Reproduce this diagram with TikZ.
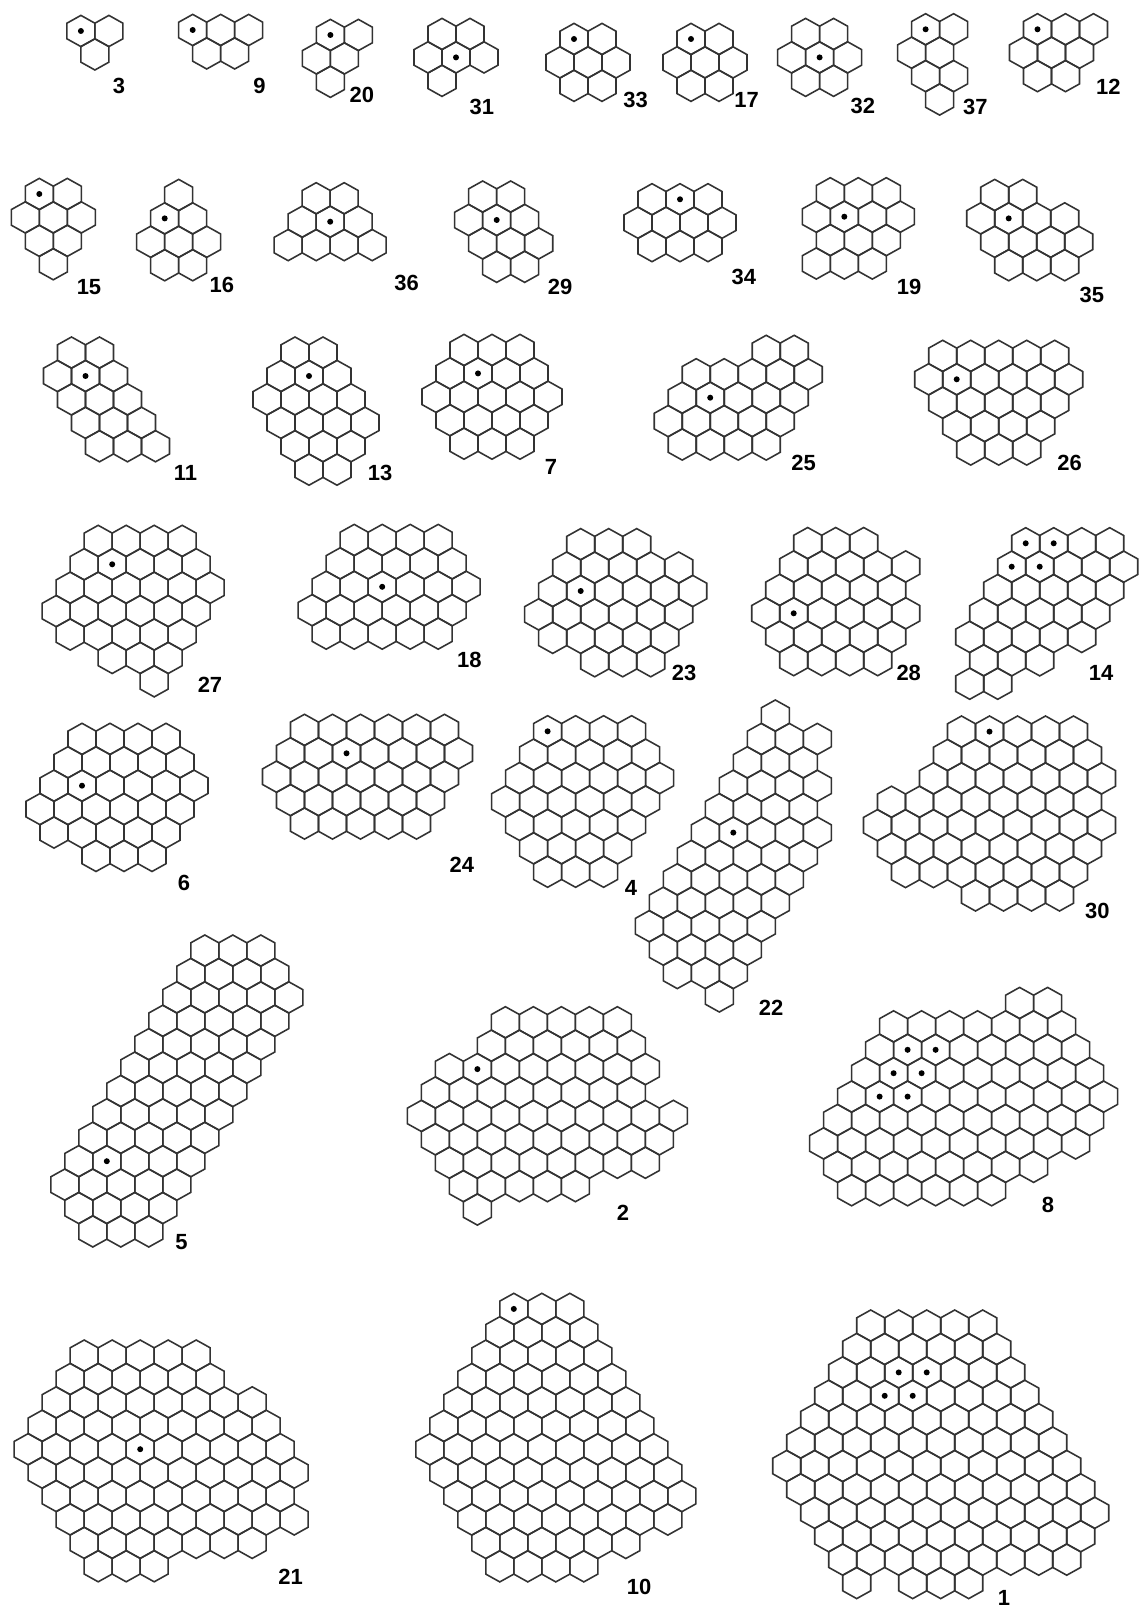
\documentclass[tikz,border=0pt]{standalone}
\usepackage{fontspec}
\setmainfont{Liberation Sans}
\tikzset{
  hexline/.style={draw=black!80, line width=0.9pt},
  hexdot/.style={fill=black},
  numlabel/.style={font=\bfseries\fontsize{12.5}{15}\selectfont, inner sep=0pt}
}
% one cell, centre given in picture units
\newcommand{\hexcell}[2]{%
  \draw[hexline, shift={({#1},{#2})}] (14,-7.8) -- (0,-15.6) -- (-14,-7.8) -- (-14,7.8) -- (0,15.6) -- (14,7.8) -- cycle;}
% first cell of the top row, then offset/count for each row
\newcommand{\polyhex}[3]{%
  \foreach \off/\num [count=\r from 0] in {#3} {
    \foreach \c in {1,...,\num} {
      \hexcell{#1+28*(\off+\c-1)}{#2+23.4*\r}
    }
  }}
\newcommand{\hexdot}[4]{\fill[hexdot] ({#1+28*(#4)},{#2+23.4*(#3)}) circle (0.06cm);}

\begin{document}
\begin{tikzpicture}[x=0.02cm, y=-0.02cm]
	\path[use as bounding box, fill=white] (0,0) rectangle (1139,1611);

	% row 1
	\polyhex{80.9}{31}{0/2, 0.5/1}
	\hexdot{80.9}{31}{0}{0}
	\node[numlabel] (n3) at (118.9,86) {3};
	\polyhex{192.7}{30}{0/3, 0.5/2}
	\hexdot{192.7}{30}{0}{0}
	\node[numlabel] (n9) at (259.6,86) {9};
	\polyhex{330.4}{35}{0/2, -0.5/2, 0/1}
	\hexdot{330.4}{35}{0}{0}
	\node[numlabel] (n20) at (361.8,95) {20};
	\polyhex{442}{34}{0/2, -0.5/3, 0/1}
	\hexdot{442}{34}{1}{0.5}
	\node[numlabel] (n31) at (481.8,106.7) {31};
	\polyhex{574}{39}{0/2, -0.5/3, 0/2}
	\hexdot{574}{39}{0}{0}
	\node[numlabel] (n33) at (635.7,100) {33};
	\polyhex{691}{39}{0/2, -0.5/3, 0/2}
	\hexdot{691}{39}{0}{0}
	\node[numlabel] (n17) at (746.5,100) {17};
	\polyhex{805.6}{34}{0/2, -0.5/3, 0/2}
	\hexdot{805.6}{34}{1}{0.5}
	\node[numlabel] (n32) at (862.8,106) {32};
	\polyhex{925.6}{29.3}{0/2, -0.5/2, 0/2, 0.5/1}
	\hexdot{925.6}{29.3}{0}{0}
	\node[numlabel] (n37) at (975.4,106.7) {37};
	\polyhex{1037.5}{29.3}{0/3, -0.5/3, 0/2}
	\hexdot{1037.5}{29.3}{0}{0}
	\node[numlabel] (n12) at (1108.4,87.3) {12};

	% row 2
	\polyhex{39.3}{194}{0/2, -0.5/3, 0/2, 0.5/1}
	\hexdot{39.3}{194}{0}{0}
	\node[numlabel] (n15) at (89,286.7) {15};
	\polyhex{178.7}{195}{0/1, -0.5/2, -1/3, -0.5/2}
	\hexdot{178.7}{195}{1}{-0.5}
	\node[numlabel] (n16) at (221.8,285) {16};
	\polyhex{316.2}{198.3}{0/2, -0.5/3, -1/4}
	\hexdot{316.2}{198.3}{1}{0.5}
	\node[numlabel] (n36) at (406.5,283.3) {36};
	\polyhex{482.7}{196.6}{0/2, -0.5/3, 0/3, 0.5/2}
	\hexdot{482.7}{196.6}{1}{0.5}
	\node[numlabel] (n29) at (560,286.7) {29};
	\polyhex{652}{199.3}{0/3, -0.5/4, 0/3}
	\hexdot{652}{199.3}{0}{1}
	\node[numlabel] (n34) at (743.9,276.7) {34};
	\polyhex{830.3}{193.3}{0/3, -0.5/4, 0/3, -0.5/3}
	\hexdot{830.3}{193.3}{1}{0.5}
	\node[numlabel] (n19) at (909,286.7) {19};
	\polyhex{994.7}{195}{0/2, -0.5/4, 0/4, 0.5/3}
	\hexdot{994.7}{195}{1}{0.5}
	\node[numlabel] (n35) at (1091.8,295) {35};

	% row 3
	\polyhex{71.5}{352.6}{0/2, -0.5/3, 0/3, 0.5/3, 1/3}
	\hexdot{71.5}{352.6}{1}{0.5}
	\node[numlabel] (n11) at (185.5,473.3) {11};
	\polyhex{295}{352.6}{0/2, -0.5/3, -1/4, -0.5/4, 0/3, 0.5/2}
	\hexdot{295}{352.6}{1}{0.5}
	\node[numlabel] (n13) at (380,473.3) {13};
	\polyhex{464}{350}{0/3, -0.5/4, -1/5, -0.5/4, 0/3}
	\hexdot{464}{350}{1}{0.5}
	\node[numlabel] (n7) at (551,466.7) {7};
	\polyhex{766.2}{350.9}{0/2, -2.5/5, -3/5, -3.5/5, -3/4}
	\hexdot{766.2}{350.9}{2}{-2}
	\node[numlabel] (n25) at (803.7,463.3) {25};
	\polyhex{942.7}{355.9}{0/5, -0.5/6, 0/5, 0.5/4, 1/3}
	\hexdot{942.7}{355.9}{1}{0.5}
	\node[numlabel] (n26) at (1069.6,463.3) {26};

	% row 4
	\polyhex{98.2}{540.9}{0/4, -0.5/5, -1/6, -1.5/6, -1/5, 0.5/3, 2/1}
	\hexdot{98.2}{540.9}{1}{0.5}
	\node[numlabel] (n27) at (210,685) {27};
	\polyhex{354.2}{540}{0/4, -0.5/5, -1/6, -1.5/6, -1/5}
	\hexdot{354.2}{540}{2}{1}
	\node[numlabel] (n18) at (469.3,660) {18};
	\polyhex{580.7}{544.2}{0/3, -0.5/5, -1/6, -1.5/6, -1/5, 0.5/3}
	\hexdot{580.7}{544.2}{2}{0}
	\node[numlabel] (n23) at (684.2,672.7) {23};
	\polyhex{807.7}{543.1}{0/3, -0.5/5, -1/5, -1.5/6, -1/5, -0.5/4}
	\hexdot{807.7}{543.1}{3}{-0.5}
	\node[numlabel] (n28) at (908.7,672.7) {28};
	\polyhex{1025.7}{543.3}{0/4, -0.5/5, -1/5, -1.5/5, -2/5, -1.5/3, -2/2}
	\hexdot{1025.7}{543.3}{0}{0}
	\hexdot{1025.7}{543.3}{0}{1}
	\hexdot{1025.7}{543.3}{1}{-0.5}
	\hexdot{1025.7}{543.3}{1}{0.5}
	\node[numlabel] (n14) at (1101,672.7) {14};

	% row 5
	\polyhex{82}{738.9}{0/4, -0.5/5, -1/6, -1.5/6, -1/5, 0.5/3}
	\hexdot{82}{738.9}{2}{0}
	\node[numlabel] (n6) at (183.9,883.3) {6};
	\polyhex{304.5}{729.9}{0/6, -0.5/7, -1/7, -0.5/6, 0/5}
	\hexdot{304.5}{729.9}{1}{1.5}
	\node[numlabel] (n24) at (461.8,865) {24};
	\polyhex{547.6}{731.3}{0/4, -0.5/5, -1/6, -1.5/6, -1/5, -0.5/4, 0/3}
	\hexdot{547.6}{731.3}{0}{0}
	\node[numlabel] (n4) at (631,888.3) {4};
	\polyhex{775.3}{715.6}{0/1, -0.5/3, -1/3, -1.5/4, -2/4, -2.5/5, -3/5, -3.5/5, -4/5, -4.5/5, -4/4, -3.5/3, -2/1}
	\hexdot{775.3}{715.6}{5}{-1.5}
	\node[numlabel] (n22) at (771.2,1008.3) {22};
	\polyhex{961.5}{731.6}{0/5, -0.5/6, -1/7, -2.5/8, -3/9, -2.5/8, -2/7, 0.5/4}
	\hexdot{961.5}{731.6}{0}{1}
	\node[numlabel] (n30) at (1097.4,910.7) {30};

	% row 6
	\polyhex{204.8}{950.6}{0/3, -0.5/4, -1/5, -1.5/5, -2/5, -2.5/5, -3/5, -3.5/5, -4/5, -4.5/5, -5/5, -4.5/4, -4/3}
	\hexdot{204.8}{950.6}{9}{-3.5}
	\node[numlabel] (n5) at (181.6,1241.7) {5};
	\polyhex{505.4}{1022.3}{0/5, -0.5/6, -2/8, -2.5/8, -3/10, -2.5/9, -2/8, -1.5/5, -1/1}
	\hexdot{505.4}{1022.3}{2}{-1}
	\node[numlabel] (n2) at (623,1213.3) {2};
	\polyhex{1019.6}{1003}{0/2, -4.5/7, -5/8, -5.5/9, -6/10, -6.5/10, -7/10, -6.5/8, -6/6}
	\hexdot{1019.6}{1003}{2}{-4}
	\hexdot{1019.6}{1003}{2}{-3}
	\hexdot{1019.6}{1003}{3}{-4.5}
	\hexdot{1019.6}{1003}{3}{-3.5}
	\hexdot{1019.6}{1003}{4}{-5}
	\hexdot{1019.6}{1003}{4}{-4}
	\node[numlabel] (n8) at (1048,1205) {8};

	% row 7
	\polyhex{84.2}{1355.6}{0/5, -0.5/6, -1/8, -1.5/9, -2/10, -1.5/10, -1/9, -0.5/9, 0/7, 0.5/3}
	\hexdot{84.2}{1355.6}{4}{2}
	\node[numlabel] (n21) at (290.5,1576.7) {21};
	\polyhex{513.8}{1308.9}{0/3, -0.5/4, -1/5, -1.5/6, -2/7, -2.5/8, -3/9, -2.5/9, -2/9, -1.5/8, -1/6, -0.5/4}
	\hexdot{513.8}{1308.9}{0}{0}
	\node[numlabel] (n10) at (639,1586.7) {10};
	\polyhex{870.7}{1325.6}{0/5, -0.5/6, -1/7, -1.5/8, -2/9, -2.5/10, -3/11, -2.5/11, -2/11, -1.5/10, -1/9, -0.5/1}
	\polyhex{912.7}{1583}{0/3}
	\hexdot{870.7}{1325.6}{2}{1}
	\hexdot{870.7}{1325.6}{2}{2}
	\hexdot{870.7}{1325.6}{3}{0.5}
	\hexdot{870.7}{1325.6}{3}{1.5}
	\node[numlabel] (n1) at (1004,1598) {1};
\end{tikzpicture}
\end{document}
